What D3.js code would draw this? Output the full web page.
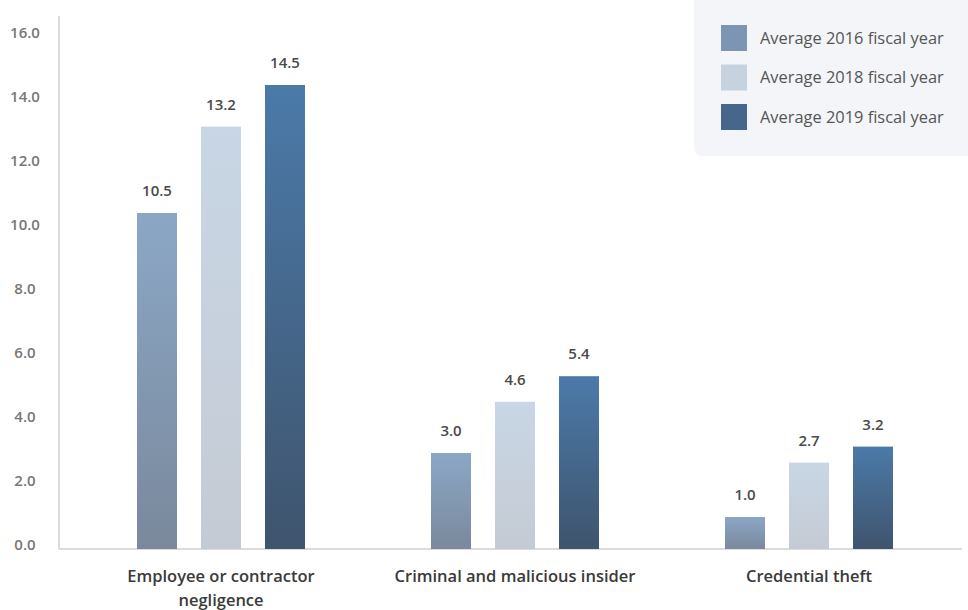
<!DOCTYPE html>
<html>
<head>
<meta charset="utf-8">
<script src="https://cdn.jsdelivr.net/npm/d3@7/dist/d3.min.js"></script>
<style>
  html, body { margin: 0; padding: 0; background: #fff; }
  svg { display: block; font-family: "Open Sans", "Noto Sans", sans-serif; }
</style>
</head>
<body>
<svg id="chart" width="968" height="610"></svg>
<script>
// Average number of incidents by cause
const categories = [
  ["Employee or contractor", "negligence"],
  ["Criminal and malicious insider"],
  ["Credential theft"]
];
const seriesNames = ["Average 2016 fiscal year", "Average 2018 fiscal year", "Average 2019 fiscal year"];
const values2016 = [10.5, 3.0, 1.0];
const values2018 = [13.2, 4.6, 2.7];
const values2019 = [14.5, 5.4, 3.2];
const yTicks = [0, 2, 4, 6, 8, 10, 12, 14, 16];

const seriesValues = [values2016, values2018, values2019];
// gradient stops (top, bottom) per series, plus a flat legend colour
const seriesStyle = [
  { top: "#8ba7c6", bottom: "#7a899c", swatch: "#7c95b2" },
  { top: "#c8d6e5", bottom: "#c5cbd4", swatch: "#c7d2df" },
  { top: "#4b7aa9", bottom: "#3f546d", swatch: "#47668b" }
];

const svg = d3.select("#chart");
const defs = svg.append("defs");
seriesStyle.forEach((s, i) => {
  const g = defs.append("linearGradient")
    .attr("id", "grad" + i)
    .attr("x1", 0).attr("y1", 0).attr("x2", 0).attr("y2", 1);
  g.append("stop").attr("offset", "0%").attr("stop-color", s.top);
  g.append("stop").attr("offset", "100%").attr("stop-color", s.bottom);
});

const axisX = 59, baseY = 549;
const y = d3.scaleLinear().domain([0, 16]).range([baseY, baseY - 16 * 32]);
const x0 = d3.scaleBand().domain(d3.range(categories.length)).range([74, 956]);
const x1 = d3.scaleBand().domain(d3.range(seriesNames.length))
  .range([-96, 96]).paddingInner(0.375).paddingOuter(0.1875);

// y tick labels
svg.append("g").selectAll("text")
  .data(yTicks)
  .join("text")
  .attr("x", 25)
  .attr("y", d => y(d) - 4)
  .attr("dy", "0.35em")
  .attr("text-anchor", "middle")
  .attr("font-size", 15)
  .attr("font-weight", 600)
  .attr("fill", "#777")
  .text(d => d3.format(".1f")(d));

// axis lines
svg.append("line")
  .attr("x1", axisX).attr("x2", axisX)
  .attr("y1", 16).attr("y2", baseY)
  .attr("stroke", "#d0d0d0").attr("stroke-width", 1.5);
svg.append("line")
  .attr("x1", axisX).attr("x2", 962)
  .attr("y1", baseY).attr("y2", baseY)
  .attr("stroke", "#cfcfcf").attr("stroke-width", 1.5);

// bars
const groups = svg.append("g").selectAll("g")
  .data(categories.map((c, ci) => ({ ci, vals: seriesValues.map(s => s[ci]) })))
  .join("g")
  .attr("transform", d => `translate(${x0(d.ci) + x0.bandwidth() / 2},0)`);

groups.selectAll("rect")
  .data(d => d.vals.map((v, si) => ({ v, si })))
  .join("rect")
  .attr("x", d => x1(d.si))
  .attr("width", x1.bandwidth())
  .attr("y", d => y(d.v))
  .attr("height", d => y(0) - y(d.v))
  .attr("fill", d => `url(#grad${d.si})`);

groups.selectAll("text.val")
  .data(d => d.vals.map((v, si) => ({ v, si })))
  .join("text")
  .attr("class", "val")
  .attr("x", d => x1(d.si) + x1.bandwidth() / 2)
  .attr("y", d => y(d.v) - 17)
  .attr("text-anchor", "middle")
  .attr("font-size", 15)
  .attr("font-weight", 600)
  .attr("fill", "#4a4a4a")
  .text(d => d3.format(".1f")(d.v));

// category labels
const catLabels = svg.append("g").selectAll("text")
  .data(categories)
  .join("text")
  .attr("x", (d, i) => x0(i) + x0.bandwidth() / 2)
  .attr("y", 582)
  .attr("text-anchor", "middle")
  .attr("font-size", 16.5)
  .attr("font-weight", 600)
  .attr("fill", "#3a3a3a");
catLabels.selectAll("tspan")
  .data(d => d)
  .join("tspan")
  .attr("x", function () { return d3.select(this.parentNode).attr("x"); })
  .attr("dy", (d, i) => i === 0 ? 0 : 24)
  .text(d => d);

// legend
const legend = svg.append("g");
legend.append("rect")
  .attr("x", 694).attr("y", -10)
  .attr("width", 300).attr("height", 166)
  .attr("rx", 8)
  .attr("fill", "#f3f5f8");
const items = legend.selectAll("g")
  .data(seriesNames)
  .join("g")
  .attr("transform", (d, i) => `translate(721,${25 + i * 39.5})`);
items.append("rect")
  .attr("width", 26).attr("height", 26)
  .attr("fill", (d, i) => seriesStyle[i].swatch);
items.append("text")
  .attr("x", 39).attr("y", 13)
  .attr("dy", "0.35em")
  .attr("font-size", 16.4)
  .attr("fill", "#555")
  .text(d => d);
</script>
</body>
</html>
